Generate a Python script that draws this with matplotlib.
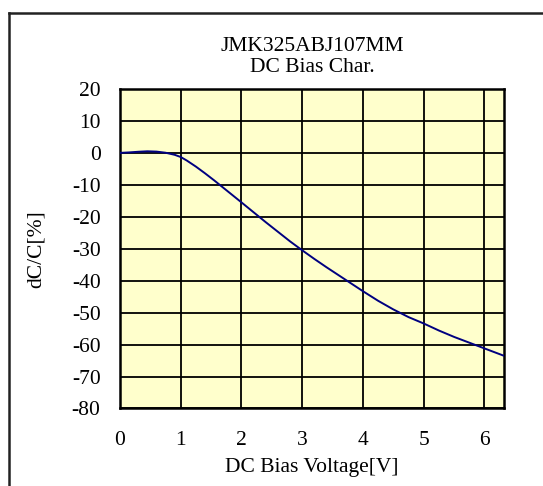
import matplotlib.pyplot as plt
from matplotlib.lines import Line2D

plt.rcParams['font.family'] = ['Liberation Serif', 'DejaVu Serif']
plt.rcParams['axes.unicode_minus'] = False

# DC bias curve
voltage = [0.0, 0.15, 0.3, 0.45, 0.6, 0.75, 0.9, 1.0, 1.1, 1.25, 1.4, 1.55, 1.7,
           1.85, 2.0, 2.2, 2.4, 2.6, 2.8, 3.0, 3.2, 3.4, 3.6, 3.8, 4.0, 4.25,
           4.5, 4.75, 5.0, 5.25, 5.5, 5.75, 6.0, 6.32]
dcc = [0.0, 0.15, 0.35, 0.5, 0.4, 0.05, -0.6, -1.3, -2.4, -4.3, -6.4, -8.6, -10.9,
       -13.2, -15.5, -18.6, -21.7, -24.7, -27.7, -30.5, -33.2, -35.8, -38.3, -40.8,
       -43.3, -46.3, -49.0, -51.4, -53.4, -55.6, -57.6, -59.4, -61.2, -63.5]

xticks = [0, 1, 2, 3, 4, 5, 6]
yticks = [20, 10, 0, -10, -20, -30, -40, -50, -60, -70, -80]

fig = plt.figure(figsize=(5.43, 4.86), dpi=100)
ax = fig.add_axes([0.221, 0.1595, 0.707, 0.6574])
ax.set_facecolor('#FFFFCC')

ax.plot(voltage, dcc, color='#000080', lw=1.4, zorder=3)

ax.set_xlim(0, 6.32)
ax.set_ylim(-80, 20)
ax.set_xticks(xticks)
ax.set_yticks(yticks)
ax.grid(True, color='black', lw=1.3)
ax.tick_params(length=0, labelsize=15.5)
ax.tick_params(axis='y', pad=14)
ax.tick_params(axis='x', pad=16)
for s in ax.spines.values():
    s.set_linewidth(1.8)
    s.set_color('black')

ax.set_title('JMK325ABJ107MM\nDC Bias Char.', fontsize=15.5, pad=12, linespacing=1.2)
ax.set_xlabel('DC Bias Voltage[V]', fontsize=15.5, labelpad=6)
ax.set_ylabel('dC/C[%]', fontsize=15.5, labelpad=19)

# outer frame (only top and left edges visible in the crop)
fig.add_artist(Line2D([8.5 / 543, 1.0], [1 - 13.5 / 486] * 2, color='#222222', lw=1.8, transform=fig.transFigure))
fig.add_artist(Line2D([8.5 / 543] * 2, [0.0, 1 - 13.5 / 486], color='#222222', lw=1.8, transform=fig.transFigure))

fig.savefig('out.png', dpi=100)
